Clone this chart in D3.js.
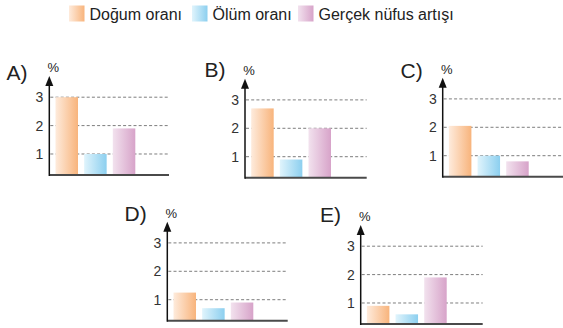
<!DOCTYPE html>
<html>
<head>
<meta charset="utf-8">
<script src="https://cdn.jsdelivr.net/npm/d3@7"></script>
<style>
  html, body { margin: 0; padding: 0; background: #fff; }
  svg { display: block; font-family: "Liberation Sans", Arial, Helvetica, sans-serif; }
</style>
</head>
<body>
<svg id="chart" width="563" height="328"></svg>
<script>
// Series shown in every small chart
const seriesNames = ["Doğum oranı", "Ölüm oranı", "Gerçek nüfus artışı"];
const panelLabels = ["A)", "B)", "C)", "D)", "E)"];
// Values (%) per option A–E
const birthRate  = [3.0, 2.7, 2.05, 1.25, 0.9];
const deathRate  = [1.0, 0.9, 1.0, 0.7, 0.6];
const growthRate = [1.9, 2.0, 0.8, 0.9, 1.9];
const yTicks = [1, 2, 3];
const yUnit = "%";

// Placement of each small chart: axis origin, grid extent, option letter
const panelLayout = [
  { ox: 49.3,  oy: 175,   right: 169,   lx: 6.5,   ly: 80 },
  { ox: 245,   oy: 177.7, right: 366.7, lx: 204.5, ly: 76.5 },
  { ox: 442.7, oy: 176.7, right: 563,   lx: 400.5, ly: 77.5 },
  { ox: 167.3, oy: 320.7, right: 287.7, lx: 124.5, ly: 221 },
  { ox: 360.7, oy: 324,   right: 482.7, lx: 320,   ly: 221.5 }
];

const gradients = [
  { id: "gBirth",  from: "#feebdc", to: "#f8b47c" },
  { id: "gDeath",  from: "#e0f4fc", to: "#8ccfef" },
  { id: "gGrowth", from: "#f2e2ee", to: "#d7a3c9" }
];

const svg = d3.select("#chart");
const defs = svg.append("defs");
gradients.forEach(g => {
  const lg = defs.append("linearGradient").attr("id", g.id)
    .attr("x1", "0%").attr("x2", "100%").attr("y1", "0%").attr("y2", "0%");
  lg.append("stop").attr("offset", "0%").attr("stop-color", g.from);
  lg.append("stop").attr("offset", "100%").attr("stop-color", g.to);
});

// Legend
const legendX = [69, 192, 298];
const legend = svg.append("g");
seriesNames.forEach((name, i) => {
  legend.append("rect")
    .attr("x", legendX[i]).attr("y", 5.5)
    .attr("width", 15.5).attr("height", 16)
    .attr("fill", `url(#${gradients[i].id})`);
  legend.append("text")
    .attr("x", legendX[i] + 20.5).attr("y", 19.5)
    .attr("font-size", 16).attr("fill", "#222")
    .text(name);
});

// Shared vertical scale (relative to each chart's baseline)
const y = d3.scaleLinear().domain([0.26, 3]).range([0, -77.8]);
const x = d3.scaleBand().domain(seriesNames).range([6.2, 86]).paddingInner(0.215).paddingOuter(0);

panelLabels.forEach((label, p) => {
  const L = panelLayout[p];
  const values = [birthRate[p], deathRate[p], growthRate[p]];

  svg.append("text")
    .attr("x", L.lx).attr("y", L.ly)
    .attr("font-size", 21).attr("fill", "#222")
    .text(label);

  const g = svg.append("g").attr("transform", `translate(${L.ox},${L.oy})`);

  // Dashed reference lines with tick labels via a left axis
  const axis = d3.axisLeft(y).tickValues(yTicks).tickSize(0).tickPadding(6)
    .tickFormat(d3.format("d"));
  const ag = g.append("g").call(axis);
  ag.select(".domain").remove();
  ag.selectAll("text")
    .attr("font-size", 14).attr("fill", "#333")
    .attr("font-family", "Liberation Sans, Arial, sans-serif");

  g.selectAll("line.grid").data(yTicks).join("line")
    .attr("class", "grid")
    .attr("x1", 1).attr("x2", L.right - L.ox)
    .attr("y1", d => y(d)).attr("y2", d => y(d))
    .attr("stroke", "#7d7d7d").attr("stroke-width", 1)
    .attr("stroke-dasharray", "3,2.2");

  // Bars
  g.selectAll("rect.bar").data(values).join("rect")
    .attr("class", "bar")
    .attr("x", (d, i) => x(seriesNames[i]))
    .attr("width", x.bandwidth())
    .attr("y", d => y(d))
    .attr("height", d => -y(d))
    .attr("fill", (d, i) => `url(#${gradients[i].id})`);

  // Baseline
  g.append("line")
    .attr("x1", 0).attr("x2", L.right - L.ox)
    .attr("y1", 0).attr("y2", 0)
    .attr("stroke", "#4a4a4a").attr("stroke-width", 2);

  // Vertical axis with arrow head
  g.append("line")
    .attr("x1", 0).attr("x2", 0).attr("y1", 1).attr("y2", -90)
    .attr("stroke", "#111").attr("stroke-width", 1.5);
  g.append("path")
    .attr("d", "M0,-99 L4,-89 L-4,-89 Z")
    .attr("fill", "#111");

  g.append("text")
    .attr("x", 4).attr("y", -103)
    .attr("text-anchor", "middle")
    .attr("font-size", 13).attr("fill", "#222")
    .text(yUnit);
});
</script>
</body>
</html>
